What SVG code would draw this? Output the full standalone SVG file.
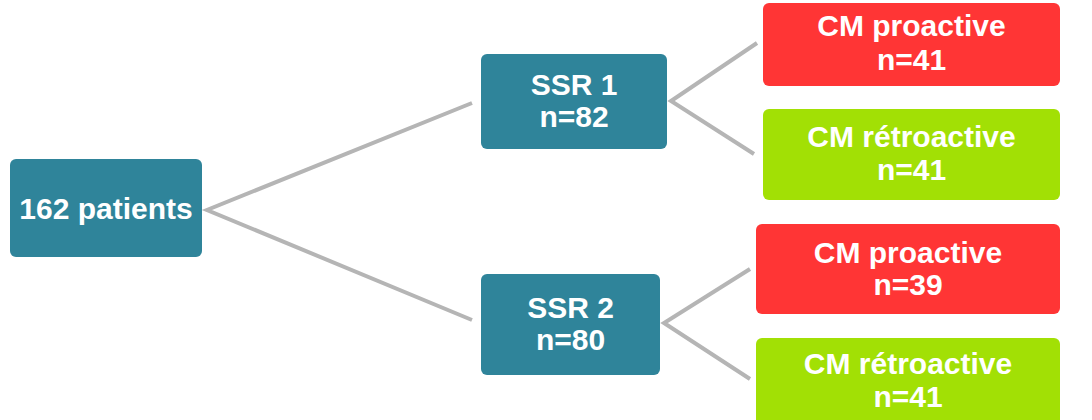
<svg xmlns="http://www.w3.org/2000/svg" width="1092" height="420" viewBox="0 0 1092 420">
<style>
.t{font-family:"Liberation Sans",Arial,sans-serif;font-weight:bold;font-size:30px;fill:#fff;text-anchor:middle}
.teal{fill:#2F849A}
.red{fill:#FF3535}
.green{fill:#A2E005}
.c{stroke:#B5B5B5;stroke-width:4;fill:none}
</style>
<rect width="1092" height="420" fill="#fff"/>
<g id="connectors">
<polyline class="c" points="472,103 207,210 472,320"/>
<polyline class="c" points="757,43 671,101 754,154"/>
<polyline class="c" points="750,269 664,323 750,379"/>
</g>
<g id="patients">
<rect class="teal" x="10" y="159" width="192" height="98" rx="6"/>
<text class="t" x="106" y="219">162 patients</text>
</g>
<g id="ssr1">
<rect class="teal" x="481" y="54" width="186" height="95" rx="6"/>
<text class="t" x="574" y="95">SSR 1</text>
<text class="t" x="574" y="127">n=82</text>
</g>
<g id="ssr2">
<rect class="teal" x="481" y="274" width="179" height="101" rx="6"/>
<text class="t" x="570.5" y="318">SSR 2</text>
<text class="t" x="570.5" y="350">n=80</text>
</g>
<g id="pro1">
<rect class="red" x="763" y="3" width="297" height="83" rx="6"/>
<text class="t" x="911.5" y="36">CM proactive</text>
<text class="t" x="911.5" y="70">n=41</text>
</g>
<g id="retro1">
<rect class="green" x="763" y="109" width="297" height="91" rx="6"/>
<text class="t" x="911.5" y="147">CM rétroactive</text>
<text class="t" x="911.5" y="180">n=41</text>
</g>
<g id="pro2">
<rect class="red" x="756" y="224" width="304" height="90" rx="6"/>
<text class="t" x="908" y="263">CM proactive</text>
<text class="t" x="908" y="295">n=39</text>
</g>
<g id="retro2">
<rect class="green" x="756" y="338" width="304" height="90" rx="6"/>
<text class="t" x="908" y="374">CM rétroactive</text>
<text class="t" x="908" y="407">n=41</text>
</g>
</svg>
